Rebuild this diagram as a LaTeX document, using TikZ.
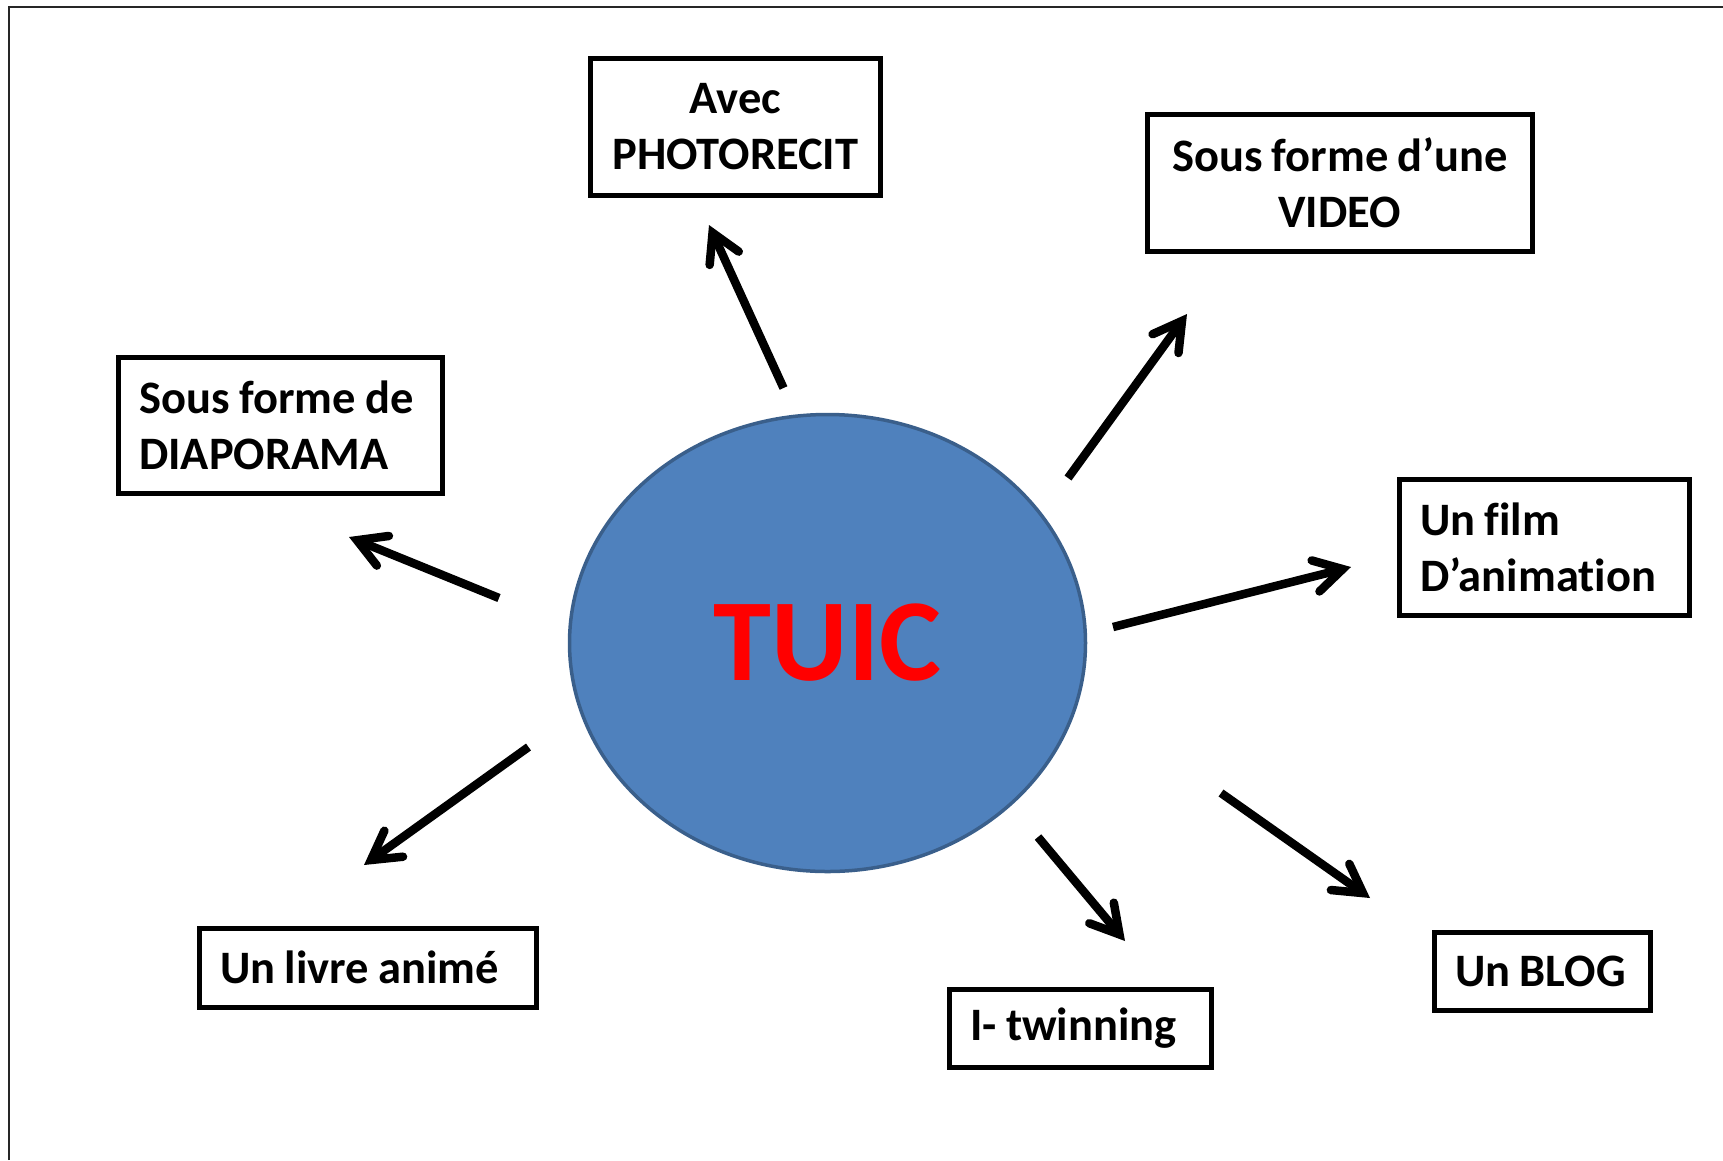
\documentclass[tikz,border=0pt]{standalone}
\usepackage{fontspec}
\setmainfont{Carlito}[Ligatures=NoCommon]
\usetikzlibrary{arrows.meta,shapes.geometric}
\definecolor{ofblue}{HTML}{4F81BD}
\definecolor{ofbluedark}{HTML}{3A5F8B}
\newcommand\tline[1]{\mbox{\spaceskip=0.2em\relax #1}}
\begin{document}
\begin{tikzpicture}[x=1pt,y=-1pt,
  box/.style={draw=black, line width=4.5pt, inner xsep=21pt, inner ysep=0pt,
    anchor=north west, font=\bfseries\fontsize{46.5}{56}\selectfont},
  conn/.style={line width=8.5pt, -{Straight Barb[length=28pt,width=32pt,line cap=round]}}]
\useasboundingbox (0,0) rectangle (1723,1160);
\draw[line width=2pt, black!85] (9,1160) -- (9,7) -- (1723,7);

\node[ellipse, minimum width=516pt, minimum height=457pt, fill=ofblue,
  draw=ofbluedark, line width=3.5pt, text=red,
  font=\bfseries\fontsize{117}{140}\selectfont] (tuic) at (827.5,643) {TUIC};

\node[box, text width=248pt, minimum height=137pt, align=center] (photo) at (588,56) {\tline{Avec}\\\tline{PHOTORECIT}};
\node[box, text width=343pt, minimum height=137pt, align=center] (video) at (1145,112) {\tline{Sous forme d’une}\\\tline{VIDEO}};
\node[box, text width=282pt, minimum height=136pt, align=left] (diapo) at (116,355) {\tline{Sous forme de}\\\tline{DIAPORAMA}};
\node[box, text width=248pt, minimum height=136pt, align=left] (film) at (1397,477) {\tline{Un film}\\\tline{D’animation}};
\node[box, text width=295pt, minimum height=79pt, align=left] (livre) at (197,926) {\tline{Un livre animé}};
\node[box, text width=220pt, minimum height=78pt, align=left] (twin) at (947,987) {\tline{I- twinning}};
\node[box, text width=174pt, minimum height=78pt, align=left] (blog) at (1432,930) {\tline{Un BLOG}};

\coordinate (a1s) at (783.5,388); \coordinate (a1e) at (709,225);
\coordinate (a2s) at (1068,478);  \coordinate (a2e) at (1187,314);
\coordinate (a3s) at (499,598);   \coordinate (a3e) at (349,537);
\coordinate (a4s) at (1113,627);  \coordinate (a4e) at (1351,567);
\coordinate (a5s) at (528.5,747); \coordinate (a5e) at (364,865);
\coordinate (a6s) at (1038,837);  \coordinate (a6e) at (1125,941);
\coordinate (a7s) at (1221,793);  \coordinate (a7e) at (1370,898);

\draw[conn] (a1s) -- (a1e);
\draw[conn] (a2s) -- (a2e);
\draw[conn] (a3s) -- (a3e);
\draw[conn] (a4s) -- (a4e);
\draw[conn] (a5s) -- (a5e);
\draw[conn] (a6s) -- (a6e);
\draw[conn] (a7s) -- (a7e);
\end{tikzpicture}
\end{document}
